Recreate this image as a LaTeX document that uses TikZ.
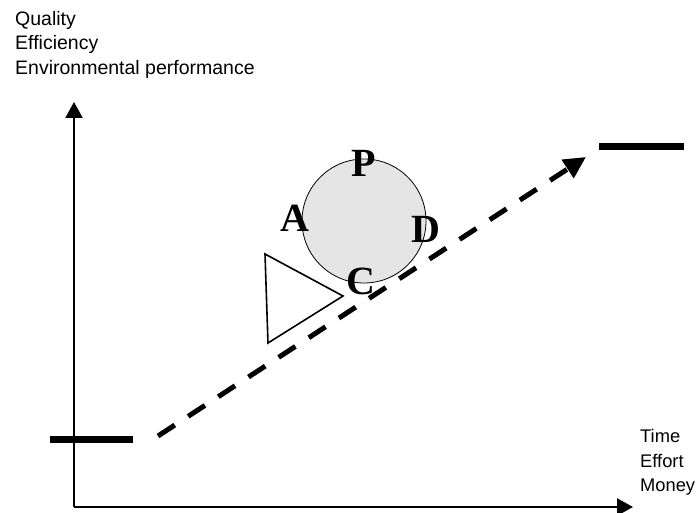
\documentclass[tikz,border=0pt]{standalone}
\usepackage{fontspec}
\setmainfont{Liberation Serif}
\newfontfamily\axisfont{Liberation Sans}
\usepackage{tikz}
\usetikzlibrary{arrows.meta}
\tikzset{
  % --- axes and labels -------------------------------------------------------
  axis/.style={line width=2.4pt,-{Triangle[length=16pt,width=17pt]}},
  axlab/.style={anchor=base west,inner sep=0pt,
                font=\axisfont\fontsize{19.5}{22}\selectfont},
  xlab/.style={axlab,font=\axisfont\fontsize{18.3}{22}\selectfont},
  % --- levels and the path between them -------------------------------------
  level/.style={line width=7pt},
  climb/.style={line width=5pt,dash pattern=on 20pt off 16pt,
                -{Triangle[length=22pt,width=21pt]}},
  % --- the wheel and its wedge ----------------------------------------------
  wheel/.style={circle,draw,fill=black!10,line width=0.8pt,
                minimum size=124pt,inner sep=0pt},
  wedge/.style={line width=1.6pt,line join=miter},
  phase/.style={inner sep=0pt,font=\fontsize{40}{44}\selectfont\bfseries},
}
\begin{document}
\begin{tikzpicture}[x=1pt, y=-1pt]
  \useasboundingbox (0,0) rectangle (699,513);

  % axes
  \coordinate (o)  at (74,507);
  \coordinate (yt) at (74,102);
  \coordinate (xt) at (633,507);
  \draw[axis] (o) -- (yt);
  \draw[axis] (o) -- (xt);

  \node[axlab] (qual) at (15,26) {Quality};
  \node[axlab] (effi) at (15,50) {Efficiency};
  \node[axlab] (envi) at (15,75) {Environmental performance};
  \node[xlab] (time)   at (640,442) {Time};
  \node[xlab] (effort) at (640,467) {Effort};
  \node[xlab] (money)  at (640,491) {Money};

  % lower and upper level
  \coordinate (l1) at (50,439);  \coordinate (l2) at (133,439);
  \coordinate (u1) at (599,147); \coordinate (u2) at (684,147);
  \draw[level] (l1) -- (l2);
  \draw[level] (u1) -- (u2);

  \coordinate (c0) at (158,436);
  \coordinate (c1) at (586,157);
  \draw[climb] (c0) -- (c1);

  % PDCA wheel resting on the wedge
  \node[wheel] (pdca) at (364,221) {};
  \coordinate (w1) at (265,254);
  \coordinate (w2) at (343,296);
  \coordinate (w3) at (268,343);
  \draw[wedge] (w1) -- (w2) -- (w3) -- cycle;

  \node[phase] (p) at (364,163) {P};
  \node[phase] (a) at (295,218) {A};
  \node[phase] (d) at (426,229) {D};
  \node[phase] (c) at (361,281) {C};
\end{tikzpicture}
\end{document}
